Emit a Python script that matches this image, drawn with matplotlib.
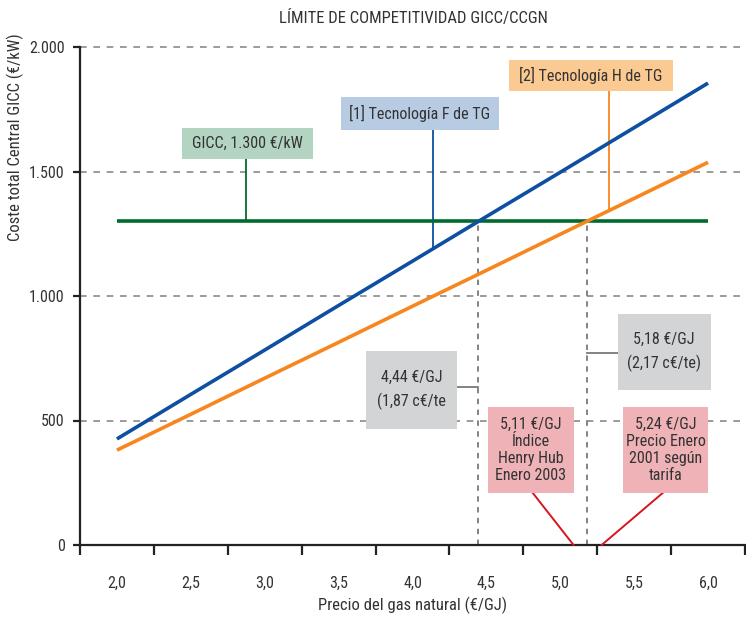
import matplotlib.pyplot as plt
from matplotlib import font_manager
from matplotlib.patches import Rectangle

# fuente estrecha si existe alguna
disponibles = {f.name for f in font_manager.fontManager.ttflist}
candidatas = ['Roboto Condensed', 'Liberation Sans Narrow', 'DejaVu Sans Condensed',
              'Noto Sans Condensed', 'Open Sans Condensed', 'Arial Narrow']
fuente = next((f for f in candidatas if f in disponibles), None)
if fuente:
    plt.rcParams['font.family'] = [fuente, 'DejaVu Sans']
    esc = 1.0
else:
    plt.rcParams['font.family'] = ['DejaVu Sans']
    plt.rcParams['font.stretch'] = 'condensed'
    esc = 0.85

# Datos
precio = [2.0, 2.5, 3.0, 3.5, 4.0, 4.5, 5.0, 5.5, 6.0]
tecnologia_f = [426, 605, 783, 962, 1140, 1319, 1497, 1676, 1855]
tecnologia_h = [381, 525, 670, 814, 959, 1103, 1248, 1392, 1537]
gicc = [1300] * len(precio)
corte_f = 4.44
corte_h = 5.18
henry_hub = 5.09
tarifa_2001 = 5.28

xticklabels = ['2,0', '2,5', '3,0', '3,5', '4,0', '4,5', '5,0', '5,5', '6,0']
yticks = [0, 500, 1000, 1500, 2000]
yticklabels = ['0', '500', '1.000', '1.500', '2.000']

txt = '#333333'
fs = 11.5 * esc
fig = plt.figure(figsize=(7.46, 6.18), dpi=100)
ax = fig.add_axes([80 / 746, 1 - 545 / 618, 665 / 746, 498 / 618])

ax.set_xlim(1.75, 6.25)
ax.set_ylim(0, 2000)

# rejilla horizontal
for y in yticks[1:]:
    ax.axhline(y, color='#8a8a8a', linestyle=(0, (4, 4)), linewidth=1.2, zorder=1, clip_on=False)

# líneas de corte
ax.plot([corte_f, corte_f], [0, 1300], color='#7a7a7a', linestyle=(0, (3, 3)), linewidth=1.3, zorder=2)
ax.plot([corte_h, corte_h], [0, 1300], color='#7a7a7a', linestyle=(0, (3, 3)), linewidth=1.3, zorder=2)

ax.plot(precio, gicc, color='#006b2d', linewidth=2.6, zorder=4, solid_capstyle='butt')
ax.plot(precio, tecnologia_f, color='#0d4fa0', linewidth=2.6, zorder=4, solid_capstyle='butt')
ax.plot(precio, tecnologia_h, color='#f7861f', linewidth=2.6, zorder=4, solid_capstyle='butt')


def caja(x0, x1, y0, y1, color, texto, ls=1.25):
    ax.add_patch(Rectangle((x0, y0), x1 - x0, y1 - y0, facecolor=color, edgecolor='none', zorder=5))
    ax.text((x0 + x1) / 2, (y0 + y1) / 2, texto, ha='center', va='center', fontsize=fs,
            color=txt, linespacing=ls, zorder=6)


# etiquetas de las series
caja(2.443, 3.328, 1550, 1675, '#b3d4c0', 'GICC, 1.300 €/kW')
ax.plot([2.875, 2.875], [1550, 1300], color='#006b2d', linewidth=1.3, zorder=3)

caja(3.517, 4.584, 1667, 1799, '#b7cbe3', '[1] Tecnología F de TG')
ax.plot([4.14, 4.14], [1667, 1190], color='#0d4fa0', linewidth=1.3, zorder=3)

caja(4.652, 5.760, 1823, 1948, '#fbc992', '[2] Tecnología H de TG')
ax.plot([5.33, 5.33], [1823, 1342], color='#f7861f', linewidth=1.3, zorder=3)

# valores de corte
caja(3.686, 4.301, 466, 779, '#d3d4d6', '4,44 €/GJ\n(1,87 c€/te', ls=1.6)
ax.plot([4.301, corte_f], [635, 635], color='#7a7a7a', linewidth=1.3, zorder=3)

caja(5.389, 6.017, 622, 928, '#d3d4d6', '5,18 €/GJ\n(2,17 c€/te)', ls=1.6)
ax.plot([corte_h, 5.389], [771, 771], color='#7a7a7a', linewidth=1.3, zorder=3)

# referencias de precio
caja(4.510, 5.091, 209, 554, '#efb3b7', '5,11 €/GJ\nÍndice\nHenry Hub\nEnero 2003', ls=1.15)
ax.plot([4.814, henry_hub], [209, 0], color='#d7141f', linewidth=1.4, zorder=3, clip_on=False)

caja(5.422, 6.003, 209, 554, '#efb3b7', '5,24 €/GJ\nPrecio Enero\n2001 según\ntarifa', ls=1.15)
ax.plot([5.693, tarifa_2001], [209, 0], color='#d7141f', linewidth=1.4, zorder=3, clip_on=False)

# ejes
for s in ['top', 'right']:
    ax.spines[s].set_visible(False)
for s in ['left', 'bottom']:
    ax.spines[s].set_color('#222222')
    ax.spines[s].set_linewidth(1.6)

ax.set_xticks([1.75 + 0.5 * i for i in range(10)])
ax.set_xticklabels([])
ax.tick_params(axis='x', which='major', direction='out', length=7, width=1.6, color='#222222')
ax.set_xticks(precio, minor=True)
ax.set_xticklabels(xticklabels, minor=True)
ax.tick_params(axis='x', which='minor', length=0, pad=22, labelsize=fs, labelcolor=txt)

ax.set_yticks(yticks)
ax.set_yticklabels(yticklabels)
ax.tick_params(axis='y', direction='out', length=5, width=1.6, color='#222222',
               labelsize=fs, labelcolor=txt, pad=6)

ax.set_xlabel('Precio del gas natural (€/GJ)', fontsize=12 * esc, color=txt, va='center')
ax.xaxis.set_label_coords((413 - 80) / 665, -(605 - 545) / 498)
ax.set_ylabel('Coste total Central GICC (€/kW)', fontsize=12 * esc, color=txt, va='center')
ax.yaxis.set_label_coords(-(80 - 15) / 665, (545 - 137) / 498)

fig.text(413 / 746, 1 - 18 / 618, 'LÍMITE DE COMPETITIVIDAD GICC/CCGN', ha='center', va='center',
         fontsize=12 * esc, color=txt)

fig.savefig('out.png', dpi=100)
